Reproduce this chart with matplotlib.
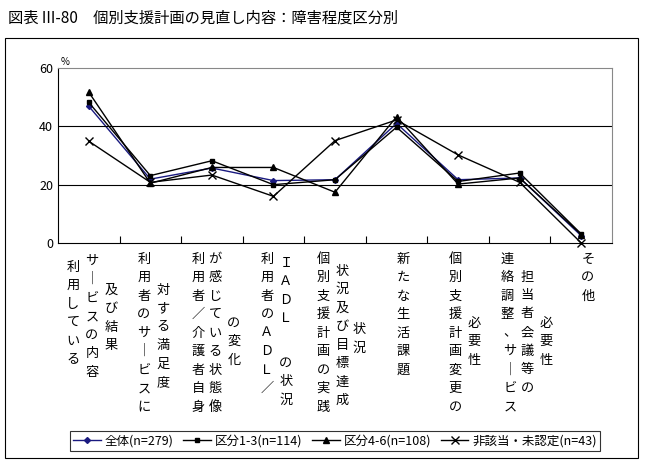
import matplotlib.pyplot as plt
from matplotlib.patches import Rectangle

plt.rcParams['font.family'] = 'Noto Sans CJK JP'

# data
categories = ['利用しているサービスの内容及び結果', '利用者のサービスに対する満足度',
              '利用者／介護者自身が感じている状態像の変化', '利用者のADL／IADLの状況',
              '個別支援計画の実践状況及び目標達成状況', '新たな生活課題',
              '個別支援計画変更の必要性', '連絡調整、サービス担当者会議等の必要性', 'その他']
series_names = ['全体(n=279)', '区分1-3(n=114)', '区分4-6(n=108)', '非該当・未認定(n=43)']
all_vals = [46.9, 21.9, 25.7, 21.4, 21.7, 41.0, 21.7, 22.3, 2.5]
k13_vals = [48.2, 23.1, 28.2, 20.0, 21.7, 39.7, 21.1, 24.0, 3.1]
k46_vals = [51.7, 20.5, 25.9, 25.9, 17.4, 43.3, 20.2, 22.3, 2.9]
non_vals = [34.9, 20.8, 23.3, 16.0, 35.1, 42.2, 30.2, 20.8, 0.0]
y_ticks = [0, 20, 40, 60]

# vertical label columns: (x px, top y px, text)
label_cols = [
    (73, 267, '利用している'), (92, 261, 'サ｜ビスの内容'), (111, 290, '及び結果'),
    (144, 259, '利用者のサ｜ビスに'), (163, 290, '対する満足度'),
    (198, 259, '利用者／介護者自身'), (215, 259, 'が感じている状態像'), (234, 323, 'の変化'),
    (267, 259, '利用者のＡＤＬ／'), (286, 263, 'ＩＡＤＬ'), (286, 363, 'の状況'),
    (323, 259, '個別支援計画の実践'), (342, 271, '状況及び目標達成'), (359, 330, '状況'),
    (403, 259, '新たな生活課題'),
    (455, 259, '個別支援計画変更の'), (474, 323, '必要性'),
    (507, 259, '連絡調整'), (510, 333, '、サ｜ビス'), (527, 277, '担当者会議等の'), (546, 323, '必要性'),
    (588, 259, 'その他'),
]

W, H = 647, 469
fig = plt.figure(figsize=(W / 100, H / 100), dpi=100)

def fx(x):
    return x / W

def fy(y):
    return 1 - y / H

fig.text(fx(8), fy(18), '図表 III-80　個別支援計画の見直し内容：障害程度区分別',
         fontsize=11, va='center', ha='left')
fig.patches.append(Rectangle((fx(5), fy(458)), fx(638) - fx(5), fy(38) - fy(458),
                             transform=fig.transFigure, fill=False, lw=0.8, color='black'))

ax = fig.add_axes([fx(58), fy(243), fx(612) - fx(58), fy(68) - fy(243)])
x = list(range(len(categories)))
styles = [
    (all_vals, '#1a1a80', 'D', 3),
    (k13_vals, 'black', 's', 3.5),
    (k46_vals, 'black', '^', 4.5),
    (non_vals, 'black', 'x', 6),
]
handles = []
for (vals, c, m, ms), name in zip(styles, series_names):
    ln, = ax.plot(x, vals, color=c, marker=m, ms=ms, lw=1.0, mew=1.0, clip_on=False)
    handles.append(ln)

ax.set_xlim(-0.5, len(categories) - 0.5)
ax.set_ylim(0, 60)
ax.set_yticks(y_ticks)
ax.tick_params(axis='y', length=0, labelsize=9)
ax.set_xticks([i + 0.5 for i in range(len(categories) - 1)])
ax.set_xticklabels([])
ax.tick_params(axis='x', direction='in', length=5)
for yv in [20, 40]:
    ax.axhline(yv, color='black', lw=0.8)
for s in ax.spines.values():
    s.set_linewidth(0.8)
ax.spines['top'].set_color('#888888')
ax.spines['right'].set_color('#888888')
fig.text(fx(61), fy(62), '%', fontsize=7, ha='left', va='center')

# vertical japanese labels
step = 18.5
for cx, top, txt in label_cols:
    for i, ch in enumerate(txt):
        fig.text(fx(cx), fy(top + i * step), ch, fontsize=9.5, ha='center', va='center')

leg = fig.legend(handles, series_names, loc='center', bbox_to_anchor=(fx(335), fy(441)),
                 ncol=4, frameon=True, fancybox=False, edgecolor='black', fontsize=9,
                 handlelength=2.2, columnspacing=0.8, handletextpad=0.3, borderpad=0.3)
leg.get_frame().set_linewidth(0.8)

fig.savefig('out.png', dpi=100)
